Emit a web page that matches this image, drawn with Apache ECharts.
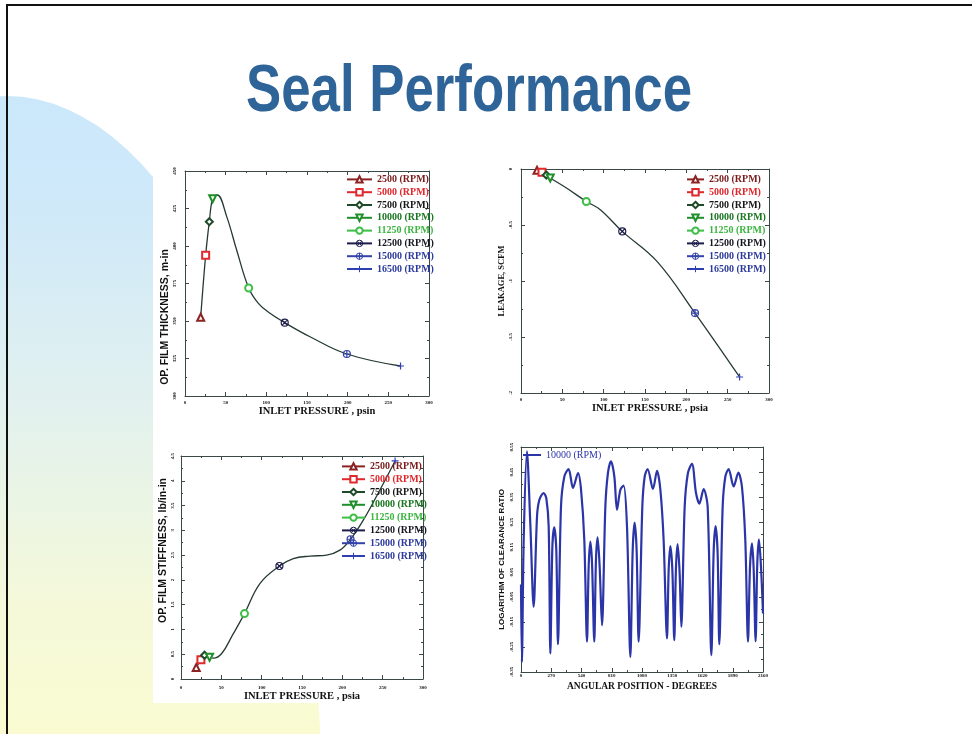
<!DOCTYPE html>
<html>
<head>
<meta charset="utf-8">
<title>Seal Performance</title>
<script src="https://cdn.jsdelivr.net/npm/echarts@6/dist/echarts.min.js"></script>
<style>
    html, body { margin: 0; padding: 0; background: #fff; }
    #main { width: 972px; height: 734px; }
</style>
</head>
<body>
<div id="main"></div>
<script>
    // ---- data ----
    const rpmNames = ['2500 (RPM)', '5000 (RPM)', '7500 (RPM)', '10000 (RPM)', '11250 (RPM)', '12500 (RPM)', '15000 (RPM)', '16500 (RPM)'];

    const pressureTicks = [0, 50, 100, 150, 200, 250, 300];
    const thickTicks = [300, 325, 350, 375, 400, 425, 450];
    const leakTicks = [-2, -1.5, -1, -0.5, 0];
    const stiffTicks = [0, 0.5, 1, 1.5, 2, 2.5, 3, 3.5, 4, 4.5];
    const angleTicks = [0, 270, 540, 810, 1080, 1350, 1620, 1890, 2160];
    const clearTicks = [-0.35, -0.25, -0.15, -0.05, 0.05, 0.15, 0.25, 0.35, 0.45, 0.55];

    // film thickness (m-in) vs inlet pressure (psi)
    const thickPressure = [19.3, 25.4, 29.9, 34, 78.3, 122.6, 199, 265];
    const thickValue = [352.5, 393.8, 416.2, 431.5, 372, 348.9, 328, 320];
    const thickCurvePressure = [19.3, 25.4, 29.9, 34, 39.7, 51.3, 63.5, 78.3, 90.2, 104.5, 122.6, 153.7, 199, 265];
    const thickCurveValue = [352.5, 393.8, 416.2, 431.5, 434, 419.6, 397.3, 372, 361.8, 355.1, 348.9, 339.5, 328, 320];

    // leakage (SCFM) vs inlet pressure
    const leakPressure = [19.4, 25.4, 30.6, 35.4, 79, 122.5, 210.5, 264.4];
    const leakValue = [-0.012, -0.03, -0.054, -0.08, -0.29, -0.557, -1.286, -1.857];
    const leakCurvePressure = [19.4, 25.4, 30.6, 35.4, 55, 79, 95.9, 122.5, 164.5, 210.5, 264.4];
    const leakCurveValue = [-0.012, -0.03, -0.054, -0.08, -0.17, -0.29, -0.363, -0.557, -0.825, -1.286, -1.857];

    // film stiffness (lb/in-in) vs inlet pressure
    const stiffPressure = [18.9, 24.7, 29.2, 35.4, 78.7, 122, 210.2, 265.4];
    const stiffValue = [0.233, 0.388, 0.48, 0.44, 1.32, 2.28, 2.82, 4.4];
    const stiffCurvePressure = [18.9, 24.7, 29.2, 35.4, 40.3, 50.7, 63, 78.7, 98, 122, 139.3, 159.9, 180.5, 197, 210.2, 225.8, 246.4, 265.4];
    const stiffCurveValue = [0.233, 0.388, 0.48, 0.44, 0.42, 0.52, 0.86, 1.32, 1.93, 2.28, 2.43, 2.48, 2.5, 2.6, 2.82, 3.2, 3.81, 4.4];

    // log of clearance ratio vs angular position, 10000 rpm
    const angleDeg = [
        0, 8, 24, 53, 83, 113, 143, 164, 202, 226, 247, 262,
        280, 297, 315, 330, 357, 387, 425, 464, 509, 536, 565, 589,
        604, 619, 634, 654, 669, 684, 702, 723, 753, 776, 803, 833, 857, 887, 916, 946, 976,
        997, 1014, 1032, 1050, 1083, 1104, 1130, 1178, 1214, 1244, 1273, 1303,
        1318, 1333, 1351, 1368, 1383, 1398, 1416, 1431, 1461, 1490, 1526, 1562, 1592, 1630, 1666, 1699,
        1720, 1737, 1755, 1770, 1800, 1824, 1853, 1898, 1940, 1972, 2002, 2026,
        2044, 2062, 2077, 2094, 2109, 2124, 2142, 2160
    ];
    const logRatio = [
        0.0, -0.31, 0.178, 0.533, 0.245, -0.089, 0.272, 0.339, 0.366, 0.345, 0.232, -0.276,
        0.152, 0.229, 0.138, -0.239, 0.312, 0.432, 0.462, 0.386, 0.446, 0.379, 0.178, -0.229,
        0.071, 0.172, 0.085, -0.229, 0.098, 0.189, 0.071, -0.163, 0.312, 0.446, 0.493, 0.432, 0.299, 0.379, 0.396, 0.232, -0.29,
        0.138, 0.248, 0.138, -0.229, 0.312, 0.432, 0.462, 0.382, 0.455, 0.379, 0.178, -0.216,
        0.058, 0.154, 0.058, -0.223, 0.065, 0.162, 0.045, -0.169, 0.312, 0.446, 0.483, 0.366, 0.323, 0.382, 0.312, -0.283,
        0.138, 0.234, 0.125, -0.239, 0.312, 0.432, 0.462, 0.392, 0.448, 0.392, 0.178, -0.229,
        0.071, 0.165, 0.058, -0.227, 0.085, 0.181, 0.071, -0.116
    ];

    // ---- styles ----
    const rpmColors = ['#8b2323', '#e0282d', '#1f4a2a', '#1f8f2a', '#3cbf46', '#1c1c4a', '#3443a8', '#2e40b3'];
    const rpmTextColors = ['#7a1a1a', '#e0262b', '#151515', '#17771f', '#3cb540', '#151520', '#2b3a9b', '#2b3a9b'];
    const circleX = 'path://M10,0A10,10,0,1,1,10,20A10,10,0,1,1,10,0ZM3,3L17,17M17,3L3,17';
    const circlePlus = 'path://M10,0A10,10,0,1,1,10,20A10,10,0,1,1,10,0ZM10,0L10,20M0,10L20,10';
    const plusMark = 'path://M10,0L10,20M0,10L20,10';
    const rpmSymbols = ['emptyTriangle', 'emptyRect', 'emptyDiamond', 'emptyTriangle', 'emptyCircle', circleX, circlePlus, plusMark];
    const axisColor = '#3a4848';
    const curveColor = '#263a34';
    const clearColor = '#2b35a8';

    function pairs(xs, ys) {
        let out = [];
        for (let i = 0; i < xs.length; i++) out.push([xs[i], ys[i]]);
        return out;
    }

    function isPathSymbol(s) {
        return s.indexOf('path://') === 0;
    }

    function valueAxis(gridIndex, ticks, position, labelOpt, extra) {
        let main = position === 'bottom' || position === 'left';
        let ax = {
            type: 'value',
            gridIndex: gridIndex,
            position: position,
            min: ticks[0],
            max: ticks[ticks.length - 1],
            interval: +(ticks[1] - ticks[0]).toFixed(6),
            axisLine: { show: true, onZero: false, lineStyle: { color: axisColor, width: 1 } },
            axisTick: { show: true, inside: true, length: 4, lineStyle: { color: axisColor } },
            minorTick: { show: true, splitNumber: 2, length: 2, lineStyle: { color: axisColor } },
            splitLine: { show: false },
            axisLabel: Object.assign({
                show: main,
                fontSize: 5,
                fontWeight: 'bold',
                fontFamily: 'Liberation Serif',
                color: '#111',
                formatter: v => String(v)
            }, labelOpt || {})
        };
        return Object.assign(ax, extra || {});
    }

    function axisName(text, family, size, gap, padding) {
        return {
            name: text,
            nameLocation: 'middle',
            nameGap: gap,
            nameTextStyle: {
                fontFamily: family,
                fontWeight: 'bold',
                fontSize: size,
                color: '#111',
                padding: padding
            }
        };
    }

    let grids = [
        { left: 185, top: 171, width: 244, height: 225 },
        { left: 521, top: 169, width: 248, height: 224 },
        { left: 181, top: 456, width: 242, height: 223 },
        { left: 521, top: 447, width: 242, height: 225 }
    ];
    grids.forEach(g => { g.outerBoundsMode = 'none'; g.containLabel = false; });

    let xAxes = [
        valueAxis(0, pressureTicks, 'bottom', { margin: 4 }, axisName('INLET PRESSURE , psin', 'Liberation Serif', 10.5, 8, [0, 0, 0, 20])),
        valueAxis(0, pressureTicks, 'top'),
        valueAxis(1, pressureTicks, 'bottom', { margin: 4 }, axisName('INLET PRESSURE , psia', 'Liberation Serif', 10.5, 9, [0, 0, 0, 10])),
        valueAxis(1, pressureTicks, 'top'),
        valueAxis(2, pressureTicks, 'bottom', { margin: 6 }, axisName('INLET PRESSURE , psia', 'Liberation Serif', 10.5, 10, 0)),
        valueAxis(2, pressureTicks, 'top'),
        valueAxis(3, angleTicks, 'bottom', { margin: 1 }, axisName('ANGULAR POSITION - DEGREES', 'Liberation Serif', 9.5, 10, 0)),
        valueAxis(3, angleTicks, 'top')
    ];
    let yAxes = [
        valueAxis(0, thickTicks, 'left', { rotate: 90, margin: 8 }, axisName('OP. FILM THICKNESS, m-in', 'Liberation Sans', 10.5, 13, [0, 67, 0, 0])),
        valueAxis(0, thickTicks, 'right'),
        valueAxis(1, leakTicks, 'left', { rotate: 90, margin: 8 }, axisName('LEAKAGE, SCFM', 'Liberation Serif', 8.5, 15, 0)),
        valueAxis(1, leakTicks, 'right'),
        valueAxis(2, stiffTicks, 'left', { rotate: 90, margin: 6 }, axisName('OP. FILM STIFFNESS, lb/in-in', 'Liberation Sans', 10.5, 10, [0, 0, 0, 34])),
        valueAxis(2, stiffTicks, 'right'),
        valueAxis(3, clearTicks, 'left', { rotate: 90, margin: 7, formatter: v => v.toFixed(2) }, axisName('LOGARITHM OF CLEARANCE RATIO', 'Liberation Sans', 8, 15, 0)),
        valueAxis(3, clearTicks, 'right')
    ];

    // three pressure plots: a curve plus one marker per speed
    let pressurePlots = [
        { px: thickPressure, py: thickValue, cx: thickCurvePressure, cy: thickCurveValue },
        { px: leakPressure, py: leakValue, cx: leakCurvePressure, cy: leakCurveValue },
        { px: stiffPressure, py: stiffValue, cx: stiffCurvePressure, cy: stiffCurveValue }
    ];
    let seriesData = [];
    pressurePlots.forEach((p, k) => {
        seriesData.push({
            type: 'line',
            xAxisIndex: 2 * k,
            yAxisIndex: 2 * k,
            smooth: 0.4,
            showSymbol: false,
            symbol: 'none',
            silent: true,
            lineStyle: { color: curveColor, width: 1.3 },
            data: pairs(p.cx, p.cy),
            z: 2
        });
        for (let i = 0; i < rpmNames.length; i++) {
            let isPath = isPathSymbol(rpmSymbols[i]);
            seriesData.push({
                name: rpmNames[i],
                type: 'line',
                xAxisIndex: 2 * k,
                yAxisIndex: 2 * k,
                symbol: rpmSymbols[i],
                symbolRotate: i === 3 ? 180 : 0,
                symbolSize: 7,
                showSymbol: true,
                lineStyle: { color: rpmColors[i], width: 1 },
                itemStyle: isPath
                    ? { color: 'none', borderColor: rpmColors[i], borderWidth: 1.2 }
                    : { color: rpmColors[i] },
                data: [[p.px[i], p.py[i]]],
                z: 3
            });
        }
    });
    seriesData.push({
        name: 'clearance10000',
        type: 'line',
        xAxisIndex: 6,
        yAxisIndex: 6,
        smooth: 0.3,
        showSymbol: false,
        symbol: 'none',
        lineStyle: { color: clearColor, width: 2.2 },
        itemStyle: { color: clearColor },
        data: pairs(angleDeg, logRatio)
    });

    let legendTextStyle = { fontFamily: 'Liberation Serif', fontWeight: 'bold', fontSize: 10, lineHeight: 12.8 };
    let legendSpots = [
        { left: 346, top: 173, itemWidth: 25 },
        { left: 686, top: 173, itemWidth: 17 },
        { left: 341, top: 460, itemWidth: 23 }
    ];
    let legends = legendSpots.map(s => ({
        orient: 'vertical',
        left: s.left,
        top: s.top,
        padding: 0,
        itemGap: 0,
        itemWidth: s.itemWidth,
        itemHeight: 8,
        selectedMode: false,
        textStyle: legendTextStyle,
        data: rpmNames.map((n, i) => {
            let item = { name: n, textStyle: { color: rpmTextColors[i] } };
            if (isPathSymbol(rpmSymbols[i])) {
                item.itemStyle = { color: 'none', borderColor: rpmColors[i], borderWidth: 1 };
            }
            return item;
        })
    }));
    legends.push({
        left: 523,
        top: 450,
        padding: 0,
        itemWidth: 18,
        itemHeight: 2,
        icon: 'rect',
        selectedMode: false,
        formatter: () => '10000 (RPM)',
        textStyle: { fontFamily: 'Liberation Serif', fontSize: 10, color: clearColor },
        data: ['clearance10000']
    });

    let myChart = echarts.init(document.getElementById('main'), null, { renderer: 'canvas' });
    let option = {
        backgroundColor: '#fff',
        animation: false,
        grid: grids,
        xAxis: xAxes,
        yAxis: yAxes,
        legend: legends,
        graphic: [
            {
                // pale blue to yellow swoosh on the left
                type: 'circle',
                x: 7,
                y: 806,
                scaleY: 710 / 315,
                z: -20,
                shape: { cx: 0, cy: 0, r: 315 },
                style: {
                    fill: new echarts.graphic.LinearGradient(0, 0, 0, 1, [
                        { offset: 0, color: '#cbe8fb' },
                        { offset: 0.08, color: '#cfe9f9' },
                        { offset: 0.22, color: '#e2f1ee' },
                        { offset: 0.36, color: '#f5f9d9' },
                        { offset: 0.45, color: '#fafbd1' },
                        { offset: 1, color: '#fafbd1' }
                    ])
                }
            },
            { type: 'rect', z: -15, shape: { x: 153, y: 150, width: 175, height: 553 }, style: { fill: '#fff' } },
            { type: 'rect', z: 10, shape: { x: 6, y: 4, width: 966, height: 2 }, style: { fill: '#111' } },
            { type: 'rect', z: 10, shape: { x: 6, y: 4, width: 2, height: 730 }, style: { fill: '#111' } },
            {
                type: 'text',
                x: 469,
                y: 93,
                scaleX: 0.8,
                z: 10,
                style: {
                    text: 'Seal Performance',
                    font: 'bold 66px "Liberation Sans", Arial, sans-serif',
                    fill: '#2f6499',
                    textAlign: 'center',
                    textVerticalAlign: 'middle'
                }
            }
        ],
        series: seriesData
    };
    myChart.setOption(option);
</script>
</body>
</html>
